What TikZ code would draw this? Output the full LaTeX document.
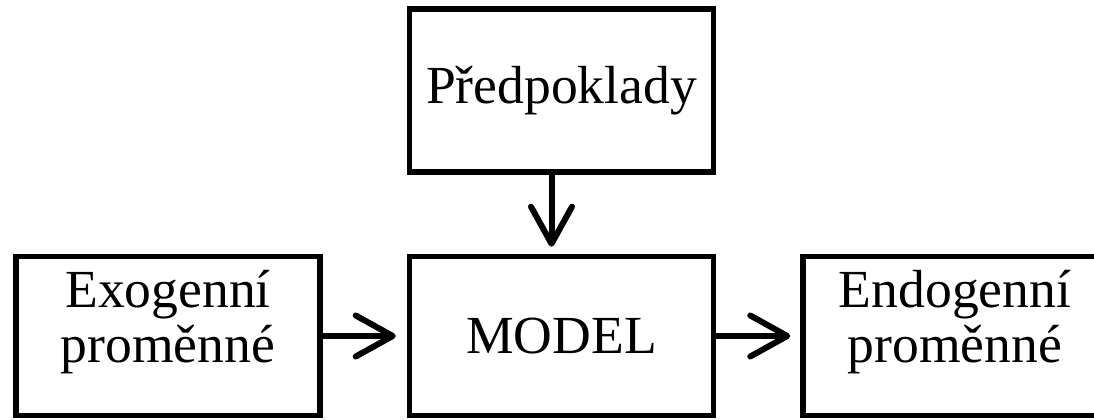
\documentclass[tikz,border=0pt]{standalone}
\usepackage{fontspec}
\setmainfont{Liberation Serif}
\usetikzlibrary{positioning,arrows.meta}

\begin{document}
\begin{tikzpicture}[node distance=7.87cm,on grid,
  box/.style={draw,rectangle,line width=0.11cm,minimum width=6.08cm,minimum height=3.18cm},
  lbl/.style={align=center,font=\fontsize{30.5}{31}\selectfont},
  flow/.style={-{Straight Barb[length=0.74cm,width=0.82cm,round]},line width=0.12cm}]
\useasboundingbox (0,0) rectangle (21.88,8.4);
\node[box,lbl](model) at (11.23,1.68) {MODEL};
\node[box](exo)[left=of model]{};
\node[box](endo)[right=of model]{};
\node[box,lbl,minimum height=3.26cm](pred)[above=4.91cm of model]{Předpoklady};
\node[lbl](exo_t) at ([yshift=0.28cm]exo) {Exogenní\\proměnné};
\node[lbl](endo_t) at ([yshift=0.28cm]endo) {Endogenní\\proměnné};
\draw[flow,shorten >=0.22cm] (exo) -- (model);
\draw[flow,shorten >=0.2cm] (model) -- (endo);
\draw[flow,shorten >=0.14cm] ([xshift=-0.2cm]pred.south) -- ([xshift=-0.2cm]model.north);
\end{tikzpicture}
\end{document}
